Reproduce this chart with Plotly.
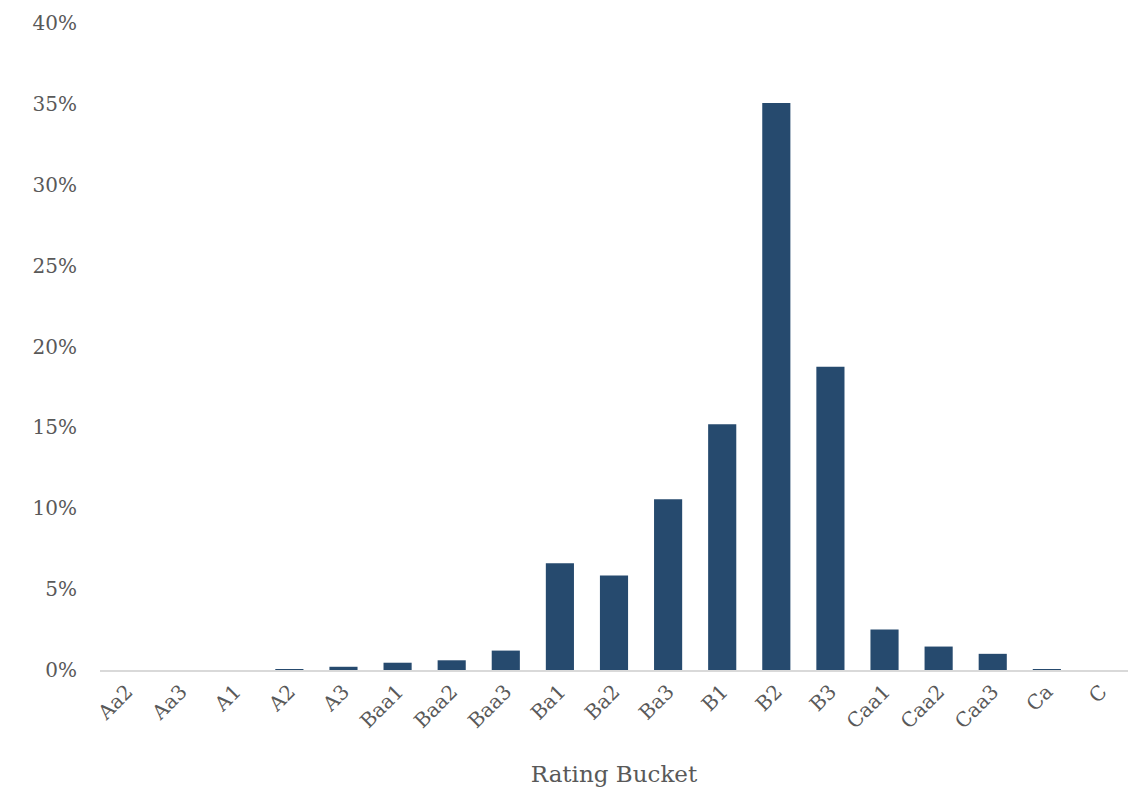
import plotly.graph_objects as go

categories = ["Aa2", "Aa3", "A1", "A2", "A3", "Baa1", "Baa2", "Baa3", "Ba1", "Ba2",
              "Ba3", "B1", "B2", "B3", "Caa1", "Caa2", "Caa3", "Ca", "C"]
shares = [0.0, 0.0, 0.0, 0.0005, 0.002, 0.0045, 0.006, 0.012, 0.066, 0.0585,
          0.1055, 0.152, 0.3505, 0.1875, 0.025, 0.0145, 0.010, 0.0005, 0.0]
y_ticks = [0, 0.05, 0.10, 0.15, 0.20, 0.25, 0.30, 0.35, 0.40]

font_family = "DejaVu Serif"
text_color = "#595959"

fig = go.Figure(go.Bar(
    x=categories, y=shares,
    marker=dict(color="#264A6E", line=dict(width=0)),
))

fig.update_layout(
    width=1146, height=789,
    margin=dict(l=100, r=18, t=23, b=119),
    plot_bgcolor="white", paper_bgcolor="white",
    bargap=0.48,
    showlegend=False,
    font=dict(family=font_family, color=text_color, size=20),
)
fig.update_xaxes(
    tickangle=-45, showgrid=False, showline=True, linecolor="#D9D9D9", linewidth=2,
    ticks="", tickfont=dict(size=20, family=font_family, color=text_color),
    automargin=False,
    title=dict(text="Rating Bucket", font=dict(size=23, family=font_family, color=text_color), standoff=34),
)
fig.update_yaxes(
    range=[0, 0.40], tickvals=y_ticks, tickformat=".0%", showgrid=False,
    zeroline=False, showline=False, ticks="", ticklabelstandoff=22,
    tickfont=dict(size=20, family=font_family, color=text_color),
)

fig.write_html("out.html")
